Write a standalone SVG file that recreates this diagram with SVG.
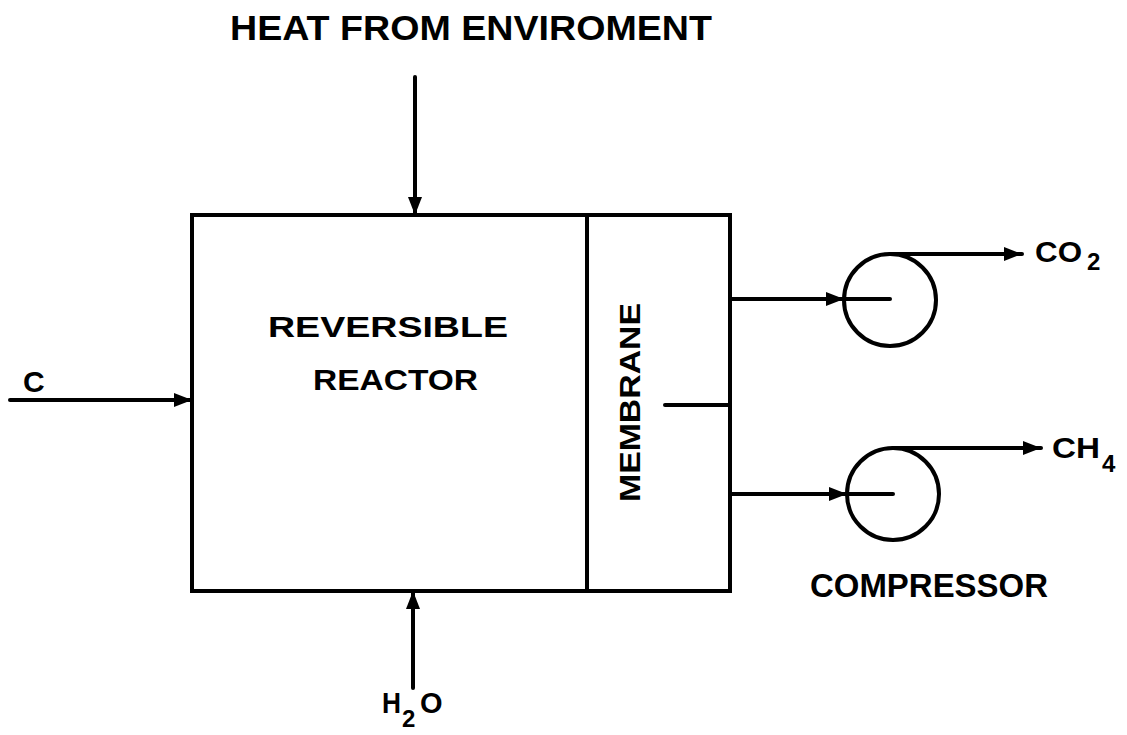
<svg xmlns="http://www.w3.org/2000/svg" width="1127" height="735" viewBox="0 0 1127 735">
<style>
.ln{stroke:#000;stroke-width:4;fill:none;stroke-linecap:round}
.tx{font-family:"Liberation Sans",Arial,sans-serif;font-weight:bold;fill:#000}
</style>
<defs>
<marker id="ah" markerUnits="userSpaceOnUse" markerWidth="20" markerHeight="16" refX="18" refY="7" orient="auto">
<path d="M0,0 L18,7 L0,14 Z" fill="#000"/>
</marker>
</defs>
<rect width="1127" height="735" fill="#fff"/>
<g id="reactor">
<rect class="ln" x="192" y="215" width="538" height="376"/>
<text class="tx" x="268" y="337" font-size="30" textLength="240" lengthAdjust="spacingAndGlyphs">REVERSIBLE</text>
<text class="tx" x="313" y="390" font-size="30" textLength="165" lengthAdjust="spacingAndGlyphs">REACTOR</text>
</g>
<g id="membrane">
<line class="ln" x1="587" y1="215" x2="587" y2="591"/>
<text class="tx" transform="translate(640,502) rotate(-90)" font-size="30" textLength="199" lengthAdjust="spacingAndGlyphs">MEMBRANE</text>
</g>
<g id="compressor1">
<circle class="ln" cx="890" cy="300" r="46"/>
</g>
<g id="compressor2">
<circle class="ln" cx="893" cy="494" r="46"/>
<text class="tx" x="810" y="597" font-size="33" textLength="238" lengthAdjust="spacingAndGlyphs">COMPRESSOR</text>
</g>
<g id="connectors">
<line class="ln" x1="415" y1="77" x2="415" y2="215" marker-end="url(#ah)"/>
<line class="ln" x1="10" y1="400" x2="192" y2="400" marker-end="url(#ah)"/>
<line class="ln" x1="413" y1="688" x2="413" y2="591" marker-end="url(#ah)"/>
<line class="ln" x1="730" y1="299" x2="844" y2="299" marker-end="url(#ah)"/>
<line class="ln" x1="844" y1="299" x2="890" y2="299"/>
<line class="ln" x1="890" y1="254" x2="1022" y2="254" marker-end="url(#ah)"/>
<line class="ln" x1="730" y1="494" x2="847" y2="494" marker-end="url(#ah)"/>
<line class="ln" x1="847" y1="494" x2="893" y2="494"/>
<line class="ln" x1="893" y1="448" x2="1041" y2="448" marker-end="url(#ah)"/>
<line class="ln" x1="665" y1="405" x2="730" y2="405"/>
</g>
<g id="labels">
<text class="tx" x="230" y="40" font-size="35" textLength="482" lengthAdjust="spacingAndGlyphs">HEAT FROM ENVIROMENT</text>
<text class="tx" x="23" y="392" font-size="30">C</text>
<text class="tx" font-size="29"><tspan x="1035" y="262" textLength="47" lengthAdjust="spacingAndGlyphs">CO</tspan><tspan x="1087" y="270" font-size="24">2</tspan></text>
<text class="tx" font-size="29"><tspan x="1052" y="458" textLength="48" lengthAdjust="spacingAndGlyphs">CH</tspan><tspan x="1102" y="472" font-size="24">4</tspan></text>
<text class="tx" font-size="29"><tspan x="382" y="713" textLength="19" lengthAdjust="spacingAndGlyphs">H</tspan><tspan x="402" y="727" font-size="24">2</tspan><tspan x="420" y="713">O</tspan></text>
</g>
</svg>
